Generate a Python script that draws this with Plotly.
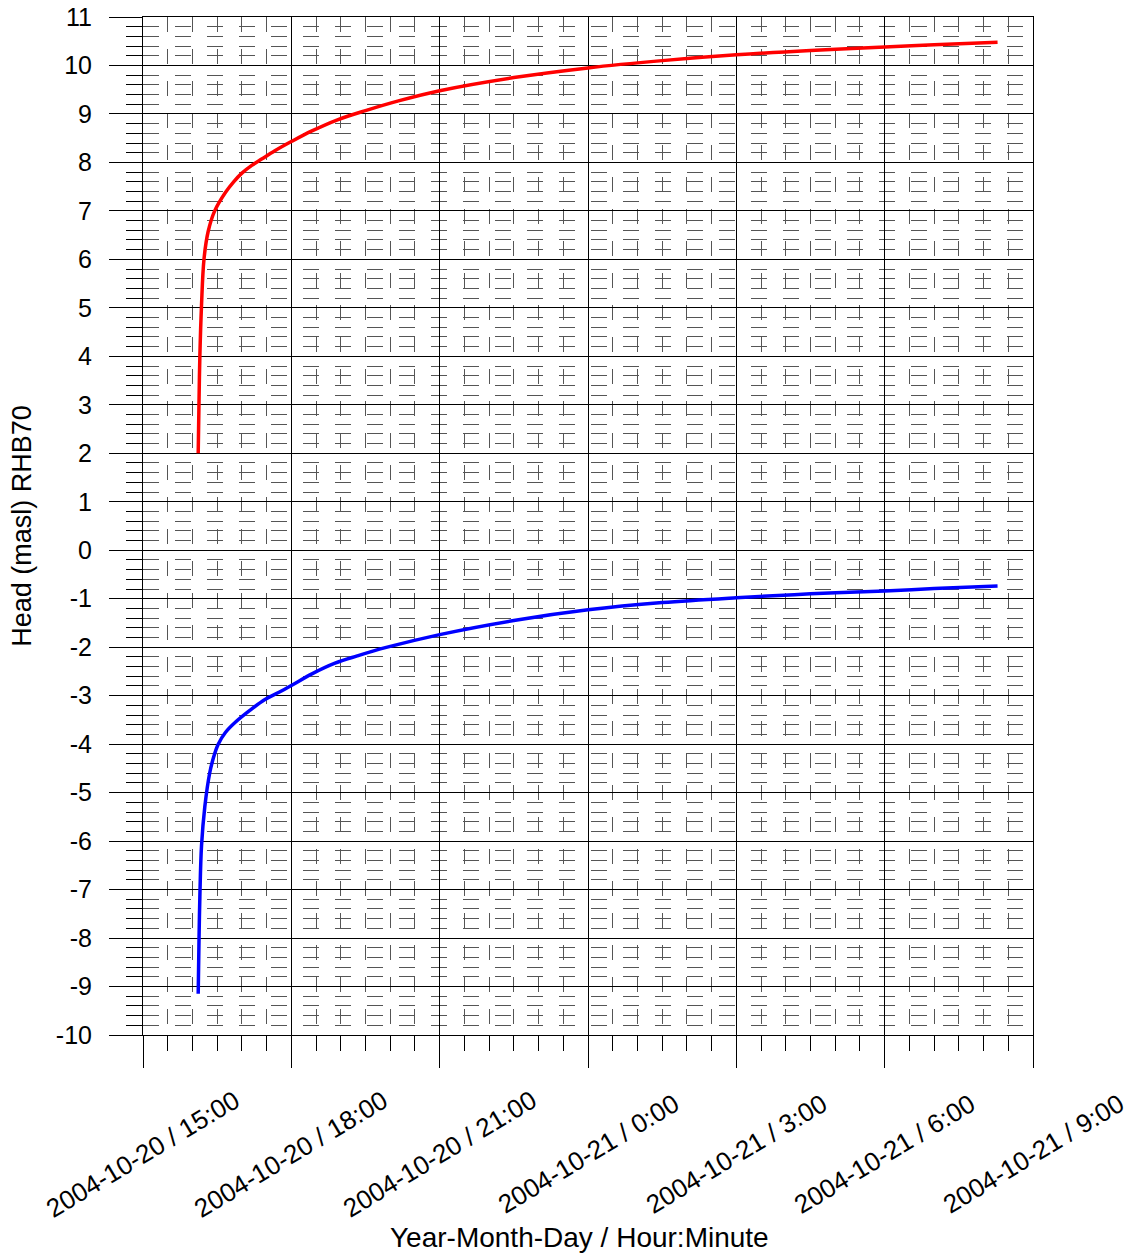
import plotly.graph_objects as go

# red series (upper curve)
red_time = ["2004-10-20 16:07", "2004-10-20 16:08", "2004-10-20 16:09", "2004-10-20 16:11",
            "2004-10-20 16:14", "2004-10-20 16:19", "2004-10-20 16:27", "2004-10-20 16:40",
            "2004-10-20 16:50", "2004-10-20 17:00", "2004-10-20 17:12", "2004-10-20 17:24",
            "2004-10-20 17:40", "2004-10-20 18:00", "2004-10-20 18:25", "2004-10-20 18:56",
            "2004-10-20 19:30", "2004-10-20 20:10", "2004-10-20 21:00", "2004-10-20 22:30",
            "2004-10-21 00:00", "2004-10-21 01:30", "2004-10-21 03:00", "2004-10-21 04:30",
            "2004-10-21 06:00", "2004-10-21 07:00", "2004-10-21 08:17"]
red_head = [2.00, 3.10, 4.00, 5.05, 6.00, 6.57, 7.00, 7.38, 7.60, 7.78, 7.94, 8.07,
            8.24, 8.43, 8.65, 8.88, 9.07, 9.27, 9.48, 9.75, 9.95, 10.10, 10.22, 10.31,
            10.38, 10.43, 10.48]

# blue series (lower curve)
blue_time = ["2004-10-20 16:07", "2004-10-20 16:08", "2004-10-20 16:09", "2004-10-20 16:11",
             "2004-10-20 16:15", "2004-10-20 16:21", "2004-10-20 16:26", "2004-10-20 16:31",
             "2004-10-20 16:40", "2004-10-20 16:52", "2004-10-20 17:10", "2004-10-20 17:28",
             "2004-10-20 17:45", "2004-10-20 18:00", "2004-10-20 18:25", "2004-10-20 18:53",
             "2004-10-20 19:20", "2004-10-20 19:54", "2004-10-20 21:00", "2004-10-20 22:30",
             "2004-10-21 00:00", "2004-10-21 01:30", "2004-10-21 03:00", "2004-10-21 04:30",
             "2004-10-21 06:00", "2004-10-21 07:00", "2004-10-21 08:17"]
blue_head = [-9.15, -8.00, -7.15, -6.10, -5.29, -4.59, -4.25, -4.01, -3.76, -3.55, -3.30,
             -3.08, -2.93, -2.79, -2.55, -2.33, -2.18, -2.01, -1.74, -1.45, -1.23, -1.08,
             -0.98, -0.90, -0.84, -0.79, -0.74]

# x ticks
tick_vals = ["2004-10-20 15:00", "2004-10-20 18:00", "2004-10-20 21:00", "2004-10-21 00:00",
             "2004-10-21 03:00", "2004-10-21 06:00", "2004-10-21 09:00"]
tick_text = ["2004-10-20 / 15:00", "2004-10-20 / 18:00", "2004-10-20 / 21:00",
             "2004-10-21 / 0:00", "2004-10-21 / 3:00", "2004-10-21 / 6:00",
             "2004-10-21 / 9:00"]

# y ticks (plain hyphen minus like the original)
y_vals = list(range(-10, 12))
y_text = [str(v) for v in y_vals]

FONT = "Liberation Sans, Arial, sans-serif"

fig = go.Figure()
fig.add_trace(go.Scatter(x=red_time, y=red_head, mode="lines",
                         line=dict(color="#ff0000", width=3.5, shape="spline", smoothing=1.0)))
fig.add_trace(go.Scatter(x=blue_time, y=blue_head, mode="lines",
                         line=dict(color="#0000ff", width=3.5, shape="spline", smoothing=1.0)))

# rotated x tick labels, centered under the ticks like the original
for v, t in zip(tick_vals, tick_text):
    fig.add_annotation(x=v, y=-0.117, xref="x", yref="paper", text=t, textangle=-31,
                       showarrow=False, xanchor="center", yanchor="middle",
                       font=dict(family=FONT, size=26, color="black"))

fig.add_annotation(x=0.49, y=-0.1994, xref="paper", yref="paper",
                   text="Year-Month-Day / Hour:Minute", showarrow=False,
                   xanchor="center", yanchor="middle",
                   font=dict(family=FONT, size=28, color="black"))

fig.update_xaxes(
    type="date", range=["2004-10-20 15:00", "2004-10-21 09:00"],
    tickvals=tick_vals, showticklabels=False, automargin=False,
    ticks="outside", ticklen=32, tickcolor="black", tickwidth=1,
    showgrid=True, gridcolor="black", gridwidth=1,
    showline=True, linecolor="black", linewidth=1, mirror=True,
    minor=dict(dtick=1800000, tick0="2004-10-20 15:00", ticks="outside", ticklen=15,
               tickcolor="black", showgrid=True, gridcolor="#555555", gridwidth=1,
               griddash="15px,17px"),
)
fig.update_yaxes(
    range=[-10, 11], tickvals=y_vals, ticktext=y_text, automargin=False,
    ticks="outside", ticklen=33, tickcolor="black", tickwidth=1,
    showgrid=True, gridcolor="black", gridwidth=1, zeroline=False,
    showline=True, linecolor="black", linewidth=1, mirror=True,
    ticklabelstandoff=12, ticklabeloverflow="allow",
    tickfont=dict(family=FONT, size=25, color="black"),
    title=dict(text="Head (masl) RHB70", font=dict(family=FONT, size=27, color="black"),
               standoff=16),
    minor=dict(dtick=0.2, ticks="outside", ticklen=16, tickcolor="black",
               showgrid=True, gridcolor="#555555", gridwidth=1, griddash="16px,16px"),
)

fig.update_layout(
    width=1133, height=1254,
    margin=dict(l=143, r=100, t=17, b=219),
    paper_bgcolor="white", plot_bgcolor="white",
    showlegend=False,
    font=dict(family=FONT, color="black"),
)

# drop the default 8px body margin of the page so the figure fills the window
fig.write_html("out.html", config={"displayModeBar": False},
               post_script="document.body.style.margin='0';")
